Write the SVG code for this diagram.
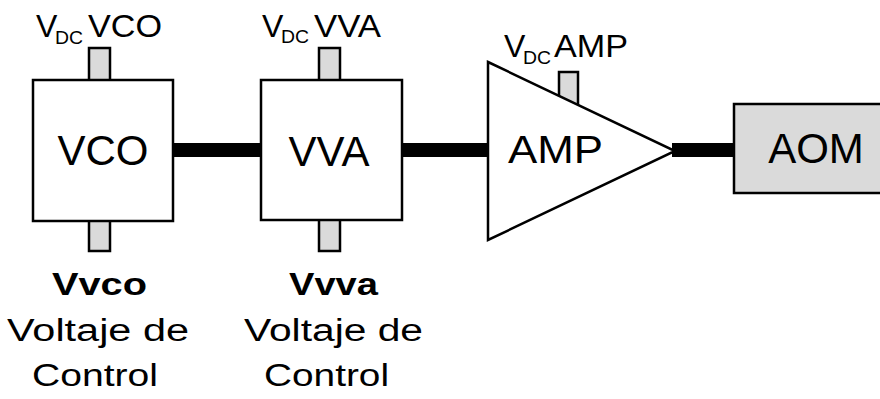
<svg xmlns="http://www.w3.org/2000/svg" width="880" height="399" viewBox="0 0 880 399">
<style>
text{font-family:"Liberation Sans",Arial,sans-serif;fill:#000}
.box{fill:#fff;stroke:#000;stroke-width:2.5}
.stub{fill:#dadada;stroke:#000;stroke-width:2.5}
.lbl{font-size:32px}
.sub{font-size:18px}
.big{font-size:42px}
.bot{font-size:31px}
.b{font-weight:bold}
.wire{stroke:#000;stroke-width:14;fill:none}
</style>
<rect width="880" height="399" fill="#fff"/>
<g id="connectors">
<line class="wire" x1="172" y1="150" x2="262" y2="150"/>
<line class="wire" x1="401" y1="150" x2="489" y2="150"/>
<line class="wire" x1="672" y1="150" x2="735" y2="150"/>
</g>
<g id="vco">
<rect class="stub" x="89" y="48" width="21" height="33"/>
<rect class="stub" x="89" y="220" width="21" height="31"/>
<rect class="box" x="33" y="80" width="140" height="141"/>
<text class="big" x="103" y="165" text-anchor="middle">VCO</text>
<text class="lbl" x="36" y="37">V</text><text class="sub" x="55" y="44" textLength="28" lengthAdjust="spacingAndGlyphs">DC</text><text class="lbl" x="88" y="37" textLength="74" lengthAdjust="spacingAndGlyphs">VCO</text>
<text class="bot b" x="52" y="295" textLength="95" lengthAdjust="spacingAndGlyphs">Vvco</text>
<text class="bot" x="7" y="341" textLength="182" lengthAdjust="spacingAndGlyphs">Voltaje de</text>
<text class="bot" x="32" y="386" textLength="126" lengthAdjust="spacingAndGlyphs">Control</text>
</g>
<g id="vva">
<rect class="stub" x="319" y="48" width="21" height="33"/>
<rect class="stub" x="319" y="219" width="21" height="32"/>
<rect class="box" x="261" y="80" width="141" height="140"/>
<text class="big" x="329" y="166" text-anchor="middle">VVA</text>
<text class="lbl" x="262" y="37">V</text><text class="sub" x="281" y="43" textLength="28" lengthAdjust="spacingAndGlyphs">DC</text><text class="lbl" x="314" y="37" textLength="67" lengthAdjust="spacingAndGlyphs">VVA</text>
<text class="bot b" x="289" y="295" textLength="89" lengthAdjust="spacingAndGlyphs">Vvva</text>
<text class="bot" x="244" y="341" textLength="179" lengthAdjust="spacingAndGlyphs">Voltaje de</text>
<text class="bot" x="264" y="386" textLength="125" lengthAdjust="spacingAndGlyphs">Control</text>
</g>
<g id="amp">
<rect class="stub" x="559" y="72" width="19" height="40"/>
<polygon class="box" points="488,62 675,151 488,240"/>
<text style="font-size:39px" x="508" y="163" textLength="95" lengthAdjust="spacingAndGlyphs">AMP</text>
<text class="lbl" x="504" y="57">V</text><text class="sub" x="523" y="64" textLength="28" lengthAdjust="spacingAndGlyphs">DC</text><text class="lbl" x="554" y="57" textLength="74" lengthAdjust="spacingAndGlyphs">AMP</text>
</g>
<g id="aom">
<rect x="734" y="104" width="160" height="89" fill="#dadada" stroke="#000" stroke-width="2.5"/>
<text class="big" x="816" y="163" text-anchor="middle">AOM</text>
</g>
</svg>
